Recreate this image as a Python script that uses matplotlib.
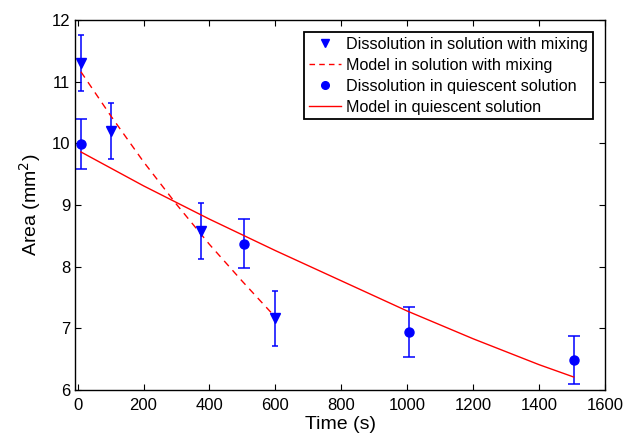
import matplotlib
matplotlib.use("Agg")
import matplotlib.pyplot as plt
from matplotlib.lines import Line2D

plt.rcParams['font.family'] = ['Liberation Sans', 'DejaVu Sans']

# Data: dissolution with mixing
t_mix = [10, 100, 375, 600]
a_mix = [11.30, 10.20, 8.58, 7.16]
e_mix = [0.45, 0.45, 0.45, 0.45]

# Data: dissolution in quiescent solution
t_qui = [10, 505, 1005, 1505]
a_qui = [9.99, 8.37, 6.94, 6.49]
e_qui = [0.40, 0.40, 0.40, 0.39]

# Model curves
t_model_mix = [10, 100, 200, 300, 400, 500, 600]
a_model_mix = [11.16, 10.45, 9.70, 9.01, 8.36, 7.76, 7.18]
t_model_qui = [10, 200, 400, 600, 800, 1000, 1200, 1400, 1505]
a_model_qui = [9.86, 9.31, 8.77, 8.26, 7.77, 7.28, 6.83, 6.41, 6.21]

x_ticks = [0, 200, 400, 600, 800, 1000, 1200, 1400, 1600]
y_ticks = [6, 7, 8, 9, 10, 11, 12]

fig = plt.figure(figsize=(6.27, 4.46), dpi=100)
ax = fig.add_axes([0.1196, 0.1256, 0.8454, 0.8296])

ax.errorbar(t_mix, a_mix, yerr=e_mix, fmt='v', color='blue', markersize=7.5,
            ecolor='blue', elinewidth=1.1, capsize=2.2, capthick=1.1)
ax.plot(t_model_mix, a_model_mix, '--', color='red', lw=1.0, dashes=(5, 4))
ax.errorbar(t_qui, a_qui, yerr=e_qui, fmt='o', color='blue', markersize=6.5,
            ecolor='blue', elinewidth=1.1, capsize=4.5, capthick=1.1)
ax.plot(t_model_qui, a_model_qui, '-', color='red', lw=1.0)

ax.set_xlim(-8, 1600)
ax.set_ylim(6, 12)
ax.set_xticks(x_ticks)
ax.set_yticks(y_ticks)
ax.tick_params(direction='in', top=True, right=True, labelsize=12, length=4, width=0.8)
ax.tick_params(axis='x', pad=6)
for s in ax.spines.values():
    s.set_linewidth(1.0)

ax.set_xlabel('Time (s)', fontsize=14, labelpad=2)
ax.set_ylabel('Area (mm$^2$)', fontsize=14, labelpad=6)

handles = [
    Line2D([], [], ls='none', marker='v', color='blue', markersize=6),
    Line2D([], [], ls='--', color='red', lw=1.0, dashes=(4, 3)),
    Line2D([], [], ls='none', marker='o', color='blue', markersize=5.5),
    Line2D([], [], ls='-', color='red', lw=1.0),
]
labels = ['Dissolution in solution with mixing', 'Model in solution with mixing',
          'Dissolution in quiescent solution', 'Model in quiescent solution']
leg = ax.legend(handles, labels, loc='upper right',
                bbox_to_anchor=(0.977, 0.968), fontsize=11.6, frameon=True,
                fancybox=False, edgecolor='black', framealpha=1,
                handlelength=2.0, handletextpad=0.3, borderpad=0.3,
                labelspacing=0.37, borderaxespad=0)
leg.get_frame().set_linewidth(1.3)

fig.savefig('out.png', dpi=100)
